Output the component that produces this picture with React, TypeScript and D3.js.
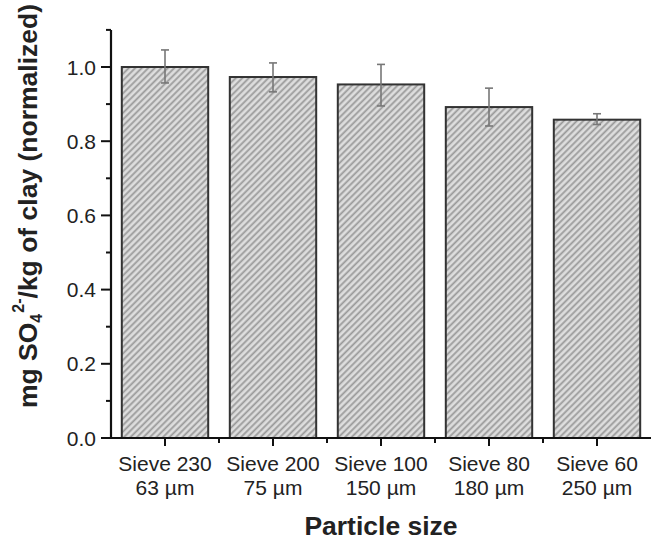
import * as d3 from "d3";

const categories = ["Sieve 230", "Sieve 200", "Sieve 100", "Sieve 80", "Sieve 60"];
const sizes = ["63 µm", "75 µm", "150 µm", "180 µm", "250 µm"];
const values = [1.0, 0.973, 0.953, 0.892, 0.858];
const errHigh = [1.046, 1.011, 1.007, 0.943, 0.874];
const errLow = [0.957, 0.933, 0.895, 0.841, 0.845];
const yTicks = [0, 0.2, 0.4, 0.6, 0.8, 1.0];
const yMinor = [0.1, 0.3, 0.5, 0.7, 0.9, 1.1];

const W = 651;
const H = 541;
const left = 111;
const right = 651;
const bottom = 438;
const font = "'Liberation Sans', Arial, Helvetica, sans-serif";

export default function App() {
  const x = d3.scaleBand().domain(categories).range([left, right]).paddingInner(0.2).paddingOuter(0.1);
  const y = d3.scaleLinear().domain([0, 1.1]).range([bottom, bottom - 371 * 1.1]);
  const step = x.step();
  const bounds = d3.range(1, categories.length).map((i) => left + step * i);

  return (
    <svg width={W} height={H} style={{ position: "absolute", left: 0, top: 0 }}>
      <defs>
        <pattern id="hatch" patternUnits="userSpaceOnUse" width={4.6} height={4.6} patternTransform="rotate(45)">
          <rect width={4.6} height={4.6} fill="#dedede" />
          <line x1={1.2} y1={0} x2={1.2} y2={4.6} stroke="#9a9a9a" strokeWidth={1.8} />
        </pattern>
      </defs>
      <rect width={W} height={H} fill="#fff" />

      {categories.map((c, i) => (
        <rect
          key={c}
          x={x(c)}
          y={y(values[i])}
          width={x.bandwidth()}
          height={bottom - y(values[i])}
          fill="url(#hatch)"
          stroke="#333"
          strokeWidth={2}
        />
      ))}

      {categories.map((c, i) => {
        const cx = (x(c) as number) + x.bandwidth() / 2;
        return (
          <g key={c + "e"} stroke="#777" strokeWidth={1.6}>
            <line x1={cx} x2={cx} y1={y(errHigh[i])} y2={y(errLow[i])} />
            <line x1={cx - 4} x2={cx + 4} y1={y(errHigh[i])} y2={y(errHigh[i])} />
            <line x1={cx - 4} x2={cx + 4} y1={y(errLow[i])} y2={y(errLow[i])} />
          </g>
        );
      })}

      {/* y axis */}
      <line x1={left} x2={left} y1={y(1.1)} y2={bottom + 1} stroke="#111" strokeWidth={2.2} />
      {yTicks.map((t) => (
        <g key={t}>
          <line x1={left - 10} x2={left} y1={y(t)} y2={y(t)} stroke="#111" strokeWidth={2} />
          <text x={left - 15} y={y(t)} dy="0.36em" textAnchor="end" fontFamily={font} fontSize={21} fill="#222">
            {t.toFixed(1)}
          </text>
        </g>
      ))}
      {yMinor.map((t) => (
        <line key={t} x1={left - 5} x2={left} y1={y(t)} y2={y(t)} stroke="#111" strokeWidth={2} />
      ))}

      {/* x axis */}
      <line x1={left - 1} x2={right} y1={bottom} y2={bottom} stroke="#111" strokeWidth={2.2} />
      {categories.map((c, i) => {
        const cx = (x(c) as number) + x.bandwidth() / 2;
        return (
          <g key={c + "t"}>
            <line x1={cx} x2={cx} y1={bottom} y2={bottom + 8} stroke="#111" strokeWidth={2} />
            <text x={cx} y={471} textAnchor="middle" fontFamily={font} fontSize={21} fill="#222">
              {c}
            </text>
            <text x={cx} y={495} textAnchor="middle" fontFamily={font} fontSize={21} fill="#222">
              {sizes[i]}
            </text>
          </g>
        );
      })}
      {bounds.map((b) => (
        <line key={b} x1={b} x2={b} y1={bottom} y2={bottom + 5} stroke="#111" strokeWidth={2} />
      ))}

      <text x={(left + right) / 2} y={535} textAnchor="middle" fontFamily={font} fontSize={26.5} fontWeight="bold" fill="#222">
        Particle size
      </text>

      <text
        transform="translate(37,206) rotate(-90)"
        textAnchor="middle"
        fontFamily={font}
        fontSize={26.5}
        fontWeight="bold"
        fill="#222"
      >
        mg SO
        <tspan fontSize={16} dy={5}>4</tspan>
        <tspan fontSize={16} dy={-18} dx={1}>2-</tspan>
        <tspan dy={13}>/kg of clay (normalized)</tspan>
      </text>
    </svg>
  );
}
